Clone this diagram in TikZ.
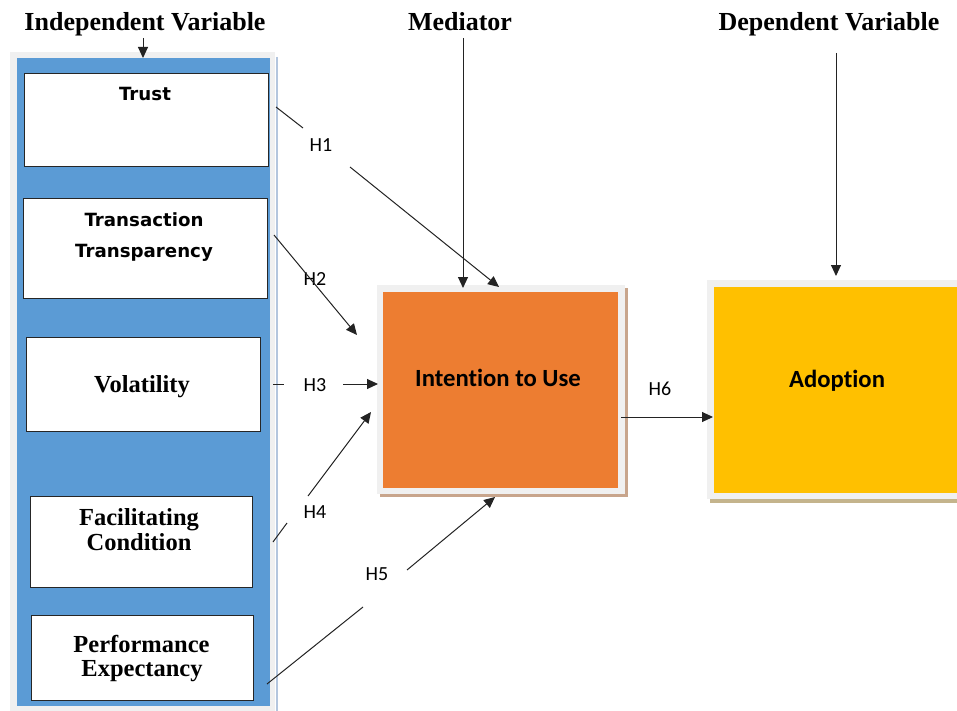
\documentclass[tikz,border=0pt]{standalone}
\usepackage{fontspec}
\setmainfont{Liberation Serif}
\newfontfamily\calib[Ligatures={NoCommon,NoDiscretionary,NoContextual}]{Carlito}
\newfontfamily\dvs{DejaVu Sans}
\usetikzlibrary{arrows.meta}
\definecolor{panelblue}{RGB}{91,155,213}
\definecolor{framegray}{RGB}{240,240,240}
\definecolor{ituorange}{RGB}{237,125,49}
\definecolor{adoptyellow}{RGB}{255,192,0}
\definecolor{shadowbrown}{RGB}{200,165,140}
\definecolor{shadowtan}{RGB}{196,180,140}
\definecolor{edgeblue}{RGB}{180,198,222}
\definecolor{linegray}{RGB}{35,35,35}
\begin{document}
\begin{tikzpicture}[x=1pt,y=-1pt,
  title/.style={font=\fontsize{26}{28}\selectfont\bfseries, anchor=base, inner sep=0},
  ivbox/.style={draw=black!85, line width=1.2pt, fill=white, anchor=north west, inner sep=0},
  plain/.style={anchor=north west, inner sep=0, draw=none},
  sanslabel/.style={font=\dvs\bfseries\fontsize{18.2}{20}\selectfont, anchor=base, inner sep=0},
  seriflabel/.style={font=\bfseries\fontsize{24.5}{26}\selectfont, anchor=base, inner sep=0},
  biglabel/.style={font=\calib\bfseries\fontsize{24.7}{26}\selectfont, anchor=base, inner sep=0},
  hlabel/.style={font=\calib\fontsize{20}{22}\selectfont, anchor=base, inner sep=0},
  conn/.style={line width=1pt, linegray},
  arr/.style={conn, -{Triangle[length=11pt,width=10pt]}}
]
\useasboundingbox (0,0) rectangle (957,711);

% titles
\node[title] (ivt) at (145,31) {Independent Variable};
\node[title] (medt) at (460,31) {Mediator};
\node[title] (dvt) at (829,31) {Dependent Variable};

% left panel
\node[plain, fill=framegray, minimum width=265pt, minimum height=660pt] (ivframe) at (10,52) {};
\node[plain, fill=panelblue, minimum width=253pt, minimum height=648pt] (ivpanel) at (17,58) {};
\draw[edgeblue, line width=2pt] (277,57) -- (277,711);

% independent variable boxes
\node[ivbox, minimum width=244pt, minimum height=93pt] (trust) at (24,73) {};
\node[ivbox, minimum width=244pt, minimum height=100pt] (tt) at (23,198) {};
\node[ivbox, minimum width=234pt, minimum height=94pt] (vol) at (26,337) {};
\node[ivbox, minimum width=222pt, minimum height=91pt] (fc) at (30,496) {};
\node[ivbox, minimum width=222pt, minimum height=85pt] (pe) at (31,615) {};

\node[sanslabel] (trustt) at (145,101) {Trust};
\node[sanslabel] (tt1) at (144,226) {Transaction};
\node[sanslabel] (tt2) at (144,257) {Transparency};
\node[seriflabel] (volt) at (142,392) {Volatility};
\node[seriflabel] (fc1) at (139,525) {Facilitating};
\node[seriflabel] (fc2) at (139,550) {Condition};
\node[seriflabel] (pe1) at (141.5,652) {Performance};
\node[seriflabel] (pe2) at (142,676) {Expectancy};

% intention to use
\fill[shadowbrown] (380,288) rectangle (628,497);
\node[plain, fill=framegray, minimum width=248pt, minimum height=209pt] (ituframe) at (377,285) {};
\node[plain, fill=ituorange, minimum width=235pt, minimum height=196pt] (itu) at (383,292) {};
\node[biglabel] (itut) at (498,386) {Intention to Use};

% adoption
\fill[shadowtan] (710,284) rectangle (957,503);
\node[plain, fill=framegray, minimum width=250pt, minimum height=219pt] (adframe) at (707,280) {};
\node[plain, fill=adoptyellow, minimum width=243pt, minimum height=206pt] (ad) at (714,287) {};
\node[biglabel] (adt) at (837,387) {Adoption};

% hypothesis labels
\node[hlabel] (h1) at (321,152) {H1};
\node[hlabel] (h2) at (315,285) {H2};
\node[hlabel] (h3) at (315,391) {H3};
\node[hlabel] (h4) at (315,518) {H4};
\node[hlabel] (h5) at (377,580) {H5};
\node[hlabel] (h6) at (660,395) {H6};

% coordinates
\coordinate (iva) at (143,38);  \coordinate (ivb) at (143,58);
\coordinate (meda) at (463,38); \coordinate (medb) at (463,288);
\coordinate (dva) at (836,53);  \coordinate (dvb) at (836,276);
\coordinate (h1a) at (276,107); \coordinate (h1b) at (303,128);
\coordinate (h1c) at (350,167); \coordinate (h1d) at (499,287);
\coordinate (h2a) at (274,235); \coordinate (h2d) at (357,335);
\coordinate (h3a) at (273,384); \coordinate (h3b) at (284,384);
\coordinate (h3c) at (343,384); \coordinate (h3d) at (378,384);
\coordinate (h4a) at (273,542); \coordinate (h4b) at (287,523);
\coordinate (h4c) at (308,496); \coordinate (h4d) at (371,412);
\coordinate (h5a) at (267,684); \coordinate (h5b) at (363,607);
\coordinate (h5c) at (407,570); \coordinate (h5d) at (495,497);
\coordinate (h6a) at (621,417); \coordinate (h6d) at (713,417);

% connectors
\draw[arr] (iva) -- (ivb);
\draw[arr] (meda) -- (medb);
\draw[arr] (dva) -- (dvb);
\draw[conn] (h1a) -- (h1b);
\draw[arr] (h1c) -- (h1d);
\draw[arr] (h2a) -- (h2d);
\draw[conn] (h3a) -- (h3b);
\draw[arr] (h3c) -- (h3d);
\draw[conn] (h4a) -- (h4b);
\draw[arr] (h4c) -- (h4d);
\draw[conn] (h5a) -- (h5b);
\draw[arr] (h5c) -- (h5d);
\draw[arr] (h6a) -- (h6d);
\end{tikzpicture}
\end{document}
